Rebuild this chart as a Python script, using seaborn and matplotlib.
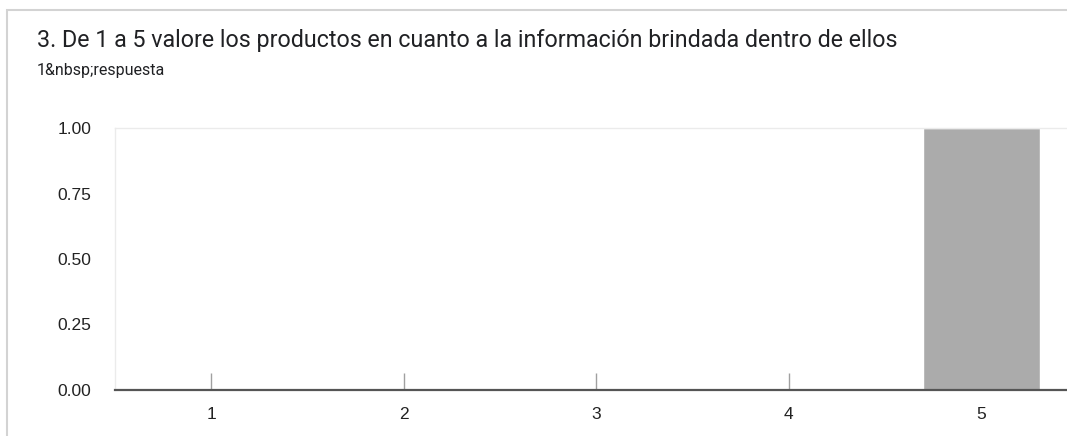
import matplotlib
matplotlib.use("Agg")
import matplotlib.pyplot as plt
import seaborn as sns
import pandas as pd
from matplotlib.patches import Rectangle

# Data
ratings = ["1", "2", "3", "4", "5"]
counts = [0, 0, 0, 0, 1]
yticks = [0.0, 0.25, 0.5, 0.75, 1.0]

title = "3. De 1 a 5 valore los productos en cuanto a la información brindada dentro de ellos"
subtitle = "1&nbsp;respuesta"

df = pd.DataFrame({"rating": ratings, "count": counts})

sns.set_style("white")
plt.rcParams["font.family"] = ["Liberation Sans", "DejaVu Sans"]

W, H = 1067, 436
fig = plt.figure(figsize=(W / 100, H / 100), dpi=100)

# card border (left + top)
fig.patches.append(Rectangle((7 / W, -0.1), 1.2, (H - 10) / H + 0.1, transform=fig.transFigure,
                             fill=False, edgecolor="#d3d3d3", linewidth=1.5, zorder=0))

left = 115 / W
right = 1077.5 / W
bottom = (H - 390) / H
top = (H - 128) / H
ax = fig.add_axes([left, bottom, right - left, top - bottom])

sns.barplot(data=df, x="rating", y="count", color="#ababab", width=0.61,
            saturation=1, ax=ax)

ax.set_ylim(0, 1)
ax.set_xlim(-0.5, 4.5)
ax.set_yticks(yticks)
ax.set_yticklabels([f"{v:.2f}" for v in yticks])
ax.set_xlabel("")
ax.set_ylabel("")

for s in ["top", "left", "right"]:
    ax.spines[s].set_color("#ebebeb")
    ax.spines[s].set_linewidth(1)
ax.spines["bottom"].set_color("#555555")
ax.spines["bottom"].set_linewidth(1.6)
ax.spines["bottom"].set_zorder(5)

ax.tick_params(axis="x", bottom=True, direction="in", length=12.5, width=1, color="#a0a0a0",
               labelsize=12.5, labelcolor="#222222", pad=12)
ax.tick_params(axis="y", left=False, length=0, labelsize=12.5, labelcolor="#222222", pad=17)

fig.text(37 / W, 1 - 40 / H, title, fontsize=16.75, color="#202124",
         family=["Roboto", "DejaVu Sans"], va="center", ha="left")
fig.text(37 / W, 1 - 71 / H, subtitle, fontsize=11.5, color="#202124",
         family=["Roboto", "DejaVu Sans"], va="center", ha="left")

fig.savefig("out.png", dpi=100)
